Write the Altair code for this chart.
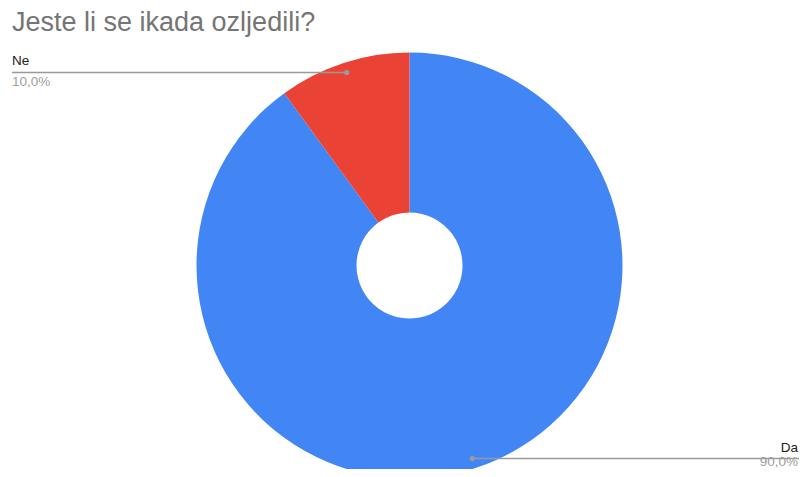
import math
import altair as alt
import pandas as pd

title = "Jeste li se ikada ozljedili?"
categories = ["Da", "Ne"]
values = [90, 10]
pct_labels = ["90,0%", "10,0%"]
colors = ["#4285f4", "#ea4335"]

# layout (chart pixel space; page = chart + 8px margin)
W, H = 791, 461
CX, CY = 401.5, 257.5
R_OUT, R_IN, R_DOT = 213, 53, 203
LEFT_X, RIGHT_X = 4, 790
FONT = "Liberation Sans"

total = sum(values)
rows = []
cum = 0.0
for i, (c, v, p) in enumerate(zip(categories, values, pct_labels)):
    mid = (cum + v / 2) / total * 2 * math.pi
    cum += v
    xd = CX + R_DOT * math.sin(mid)
    yd = CY - R_DOT * math.cos(mid)
    right = xd > CX
    rows.append(dict(cat=c, val=v, pct=p, order=i,
                     xd=xd, yd=yd,
                     xe=W if right else LEFT_X,
                     xt=RIGHT_X if right else LEFT_X,
                     align="right" if right else "left",
                     yname=yd - 7, ypct=min(yd + 14, H - 3)))
df = pd.DataFrame(rows)

base = alt.Chart(df)

arcs = base.mark_arc(outerRadius=R_OUT, innerRadius=R_IN).encode(
    theta=alt.Theta("val:Q", stack=True),
    order=alt.Order("order:Q"),
    color=alt.Color("cat:N", scale=alt.Scale(domain=categories, range=colors), legend=None),
    x=alt.value(CX), y=alt.value(CY),
)

lines = base.mark_rule(color="#9a9a9a", strokeWidth=1.5).encode(
    x=alt.X("xd:Q", scale=None), x2="xe:Q",
    y=alt.Y("yd:Q", scale=None),
)

dots = base.mark_circle(color="#9a9a9a", size=28, opacity=1).encode(
    x=alt.X("xd:Q", scale=None), y=alt.Y("yd:Q", scale=None),
)

left_df = df[df["align"] == "left"]
right_df = df[df["align"] == "right"]

def texts(d, align):
    b = alt.Chart(d)
    name = b.mark_text(align=align, baseline="alphabetic", font=FONT, fontSize=13.5,
                       color="#222222").encode(
        x=alt.X("xt:Q", scale=None), y=alt.Y("yname:Q", scale=None), text="cat:N")
    pct = b.mark_text(align=align, baseline="alphabetic", font=FONT, fontSize=13.5,
                      color="#9e9e9e").encode(
        x=alt.X("xt:Q", scale=None), y=alt.Y("ypct:Q", scale=None), text="pct:N")
    return name + pct

title_mark = alt.Chart(pd.DataFrame({"t": [title]})).mark_text(
    align="left", baseline="alphabetic", font=FONT, fontSize=27, color="#757575"
).encode(x=alt.value(4), y=alt.value(23), text="t:N")

chart = alt.layer(arcs, lines, dots, texts(left_df, "left"), texts(right_df, "right"), title_mark).properties(
    width=W, height=H,
    autosize=alt.AutoSizeParams(type="none"),
    padding=0,
    background="white",
).configure_view(strokeWidth=0, stroke="transparent")

chart.save("out.html", embed_options={"renderer": "svg", "actions": False})
